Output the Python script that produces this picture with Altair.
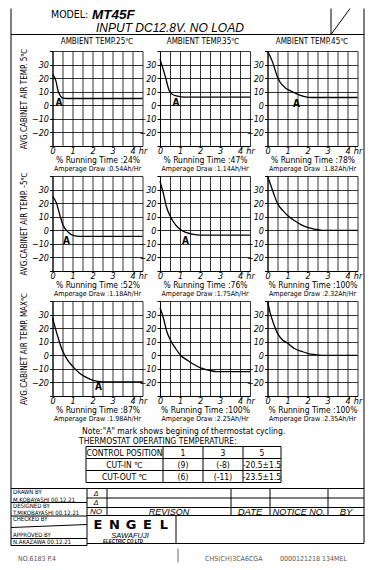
import altair as alt
import pandas as pd

# ---------------- data ----------------
ambient = ["AMBIENT TEMP.25℃", "AMBIENT TEMP.35℃", "AMBIENT TEMP.45℃"]
setting = ["AVG.CABINET AIR TEMP. 5℃", "AVG.CABINET AIR TEMP. -5℃", "AVG.CABINET AIR TEMP. MAX℃"]
running = ["24%", "47%", "78%", "52%", "76%", "100%", "87%", "100%", "100%"]
amperage = ["0.54", "1.14", "1.82", "1.18", "1.75", "2.32", "1.98", "2.25", "2.35"]

# row 1 : cabinet 5 C
hours_25_5 = [0, 0.17, 0.28, 0.4, 0.53, 0.7, 1.0, 4.5]
temp_25_5 = [23, 18, 10.5, 6.8, 5.2, 5, 5, 5]
hours_35_5 = [0, 0.25, 0.47, 0.63, 0.88, 1.2, 4.5]
temp_35_5 = [34, 22, 10.5, 8, 6.8, 6, 6]
hours_45_5 = [0, 0.25, 0.47, 0.63, 0.88, 1.13, 1.38, 1.72, 2.05, 2.4, 4.5]
temp_45_5 = [40, 32, 22, 17, 13, 10.75, 9, 7, 5.9, 5.75, 5.75]
# row 2 : cabinet -5 C
hours_25_m5 = [0, 0.2, 0.37, 0.53, 0.78, 1.03, 1.37, 4.5]
temp_25_m5 = [25, 20, 11, 3.75, -1.25, -3.75, -4.5, -4.5]
hours_35_m5 = [0, 0.17, 0.33, 0.5, 0.75, 1.0, 1.33, 1.67, 2.0, 4.5]
temp_35_m5 = [36, 27, 17, 10.75, 4.5, 0.75, -1.75, -3, -3.5, -3.5]
hours_45_m5 = [0, 0.17, 0.34, 0.51, 0.77, 1.02, 1.36, 1.7, 2.04, 2.38, 2.72, 4.5]
temp_45_m5 = [40, 33, 25.75, 19.5, 14.5, 10.75, 7, 4, 2, 0.75, 0, 0]
# row 3 : cabinet MAX
hours_25_max = [0, 0.14, 0.31, 0.48, 0.74, 1.0, 1.34, 1.69, 2.03, 2.38, 2.72, 4.5]
temp_25_max = [27.5, 20, 11.5, 4, -3.2, -8, -13, -16.3, -18.5, -19.4, -19.6, -19.6]
hours_35_max = [0, 0.17, 0.34, 0.52, 0.78, 1.03, 1.38, 1.72, 2.07, 2.5, 2.84, 4.5]
temp_35_max = [35, 27.5, 17.5, 11.25, 5, 0, -3.75, -7, -9.5, -11.25, -12, -12]
hours_45_max = [0, 0.12, 0.31, 0.48, 0.74, 1.0, 1.34, 1.69, 2.03, 2.38, 2.72, 4.5]
temp_45_max = [40, 32, 23, 16.7, 11.5, 9, 5, 3, 1.3, 0.5, 0, 0]

# "A" = beginning of thermostat cycling (hours, temp)
cycle_hours = [0.32, 0.8, 1.45, 0.7, 1.27, None, 2.3, None, None]
cycle_temps = [1.5, 1.5, 1.0, -8, -8, None, -23, None, None]

control_position = ["1", "3", "5"]
cut_in = ["(9)", "(-8)", "-20.5±1.5"]
cut_out = ["(6)", "(-11)", "-23.5±1.5"]

curves = [
    (hours_25_5, temp_25_5), (hours_35_5, temp_35_5), (hours_45_5, temp_45_5),
    (hours_25_m5, temp_25_m5), (hours_35_m5, temp_35_m5), (hours_45_m5, temp_45_m5),
    (hours_25_max, temp_25_max), (hours_35_max, temp_35_max), (hours_45_max, temp_45_max),
]

NARROW = "Liberation Sans Narrow, DejaVu Sans Condensed, Liberation Sans, sans-serif"
SANS = "Liberation Sans, Arial, sans-serif"
PW, PH = 90, 95
NB = "\u00a0"


def panel(i):
    r, c = divmod(i, 3)
    hrs, tmp = curves[i]
    df = pd.DataFrame({"t": hrs, "v": tmp})
    x = alt.X(
        "t:Q",
        scale=alt.Scale(domain=[0, 4.5], nice=False, zero=False),
        axis=alt.Axis(
            values=[k * 0.5 for k in range(10)],
            labelExpr="datum.value == 4.5 ? '" + NB + "hr' : (datum.value % 1 == 0 ? format(datum.value, 'd') : '')",
            title="% Running Time :" + running[i],
            ticks=False, labelPadding=0, titlePadding=0, titleFontSize=8.5,
            labelOverlap=False, labelFlush=False,
        ),
    )
    yaxis = dict(
        values=list(range(-30, 41, 10)),
        labelExpr="(datum.value == 40 || datum.value == -30) ? '' : format(datum.value, 'd')",
        tickSize=3, labelPadding=1, labelOverlap=False,
    )
    if c == 0:
        yaxis.update(title=setting[r], titleFontSize=8, titlePadding=3)
    else:
        yaxis.update(title=None)
    y = alt.Y("v:Q", scale=alt.Scale(domain=[-30, 40], nice=False, zero=False), axis=alt.Axis(**yaxis))
    line = alt.Chart(df).mark_line(color="black", strokeWidth=1.3, interpolate="monotone").encode(x=x, y=y)
    if cycle_hours[i] is not None:
        adf = pd.DataFrame({"t": [cycle_hours[i]], "v": [cycle_temps[i]], "s": ["A"]})
        txt = alt.Chart(adf).mark_text(font=NARROW, fontSize=10, fontWeight="bold", color="black",
                                       baseline="middle").encode(x=x, y=y, text="s:N")
        ch = alt.layer(line, txt)
    else:
        ch = line
    return ch.properties(
        width=PW, height=PH,
        title=alt.TitleParams(text="Amperage Draw :" + amperage[i] + "Ah/Hr", orient="bottom", anchor="middle",
                              fontSize=7, offset=1, font=NARROW, fontWeight="normal", color="black"),
    )


def spacer(w, h):
    return (
        alt.Chart(pd.DataFrame({"a": [0]}))
        .mark_point(opacity=0)
        .encode(x=alt.value(0), y=alt.value(0))
        .properties(width=w, height=h)
    )


# ---------------- page decoration (page coordinates, drawn from the first grid cell) ----------------
SX = alt.Scale(domain=[8, 31.5], range=[0, 23.5])
SY = alt.Scale(domain=[50.5, 145.5], range=[0, 95])


def seg_layer(segs, color="black", width=1.0):
    df = pd.DataFrame(segs, columns=["x", "y", "x2", "y2"])
    return alt.Chart(df).mark_rule(color=color, strokeWidth=width).encode(
        x=alt.X("x:Q", scale=SX, axis=None), y=alt.Y("y:Q", scale=SY, axis=None), x2="x2:Q", y2="y2:Q"
    )


def text_layer(items, font=NARROW, style="normal", weight="normal", align="left", color="black"):
    df = pd.DataFrame(items, columns=["x", "y", "s", "size"])
    return alt.Chart(df).mark_text(
        font=font, fontStyle=style, fontWeight=weight, align=align, baseline="middle", color=color
    ).encode(
        x=alt.X("x:Q", scale=SX, axis=None), y=alt.Y("y:Q", scale=SY, axis=None),
        text="s:N", size=alt.Size("size:Q", scale=None),
    )


segs = [
    (8, 34, 361, 34), (8, 8, 8, 545), (361, 8, 361, 543), (328, 8, 328, 34), (328, 34, 347, 8),
    # title block
    (8, 488, 361, 488), (84, 488, 84, 545), (8, 502, 84, 502), (8, 515.5, 84, 515.5),
    (8, 527, 84, 524), (8, 538, 84, 538), (8, 545, 84, 545),
    (104, 488, 104, 515), (228, 488, 228, 515), (267, 488, 267, 515), (325, 488, 325, 515),
    (84, 497.5, 361, 497.5), (84, 507, 361, 507), (84, 515, 361, 515),
    (173, 515, 173, 543), (84, 543, 361, 543),
]
tx = [83, 160, 200, 240, 278]
ty = [446, 458, 470, 482]
for xx in tx:
    segs.append((xx, ty[0], xx, ty[-1]))
for yy in ty:
    segs.append((tx[0], yy, tx[-1], yy))

table_items = []
row_labels = ["CONTROL POSITION", "CUT-IN ℃", "CUT-OUT ℃"]
for ri, vals in enumerate([control_position, cut_in, cut_out]):
    yc = (ty[ri] + ty[ri + 1]) / 2
    table_items.append(((tx[0] + tx[1]) / 2, yc, row_labels[ri], 8.5))
    for ci, v in enumerate(vals):
        table_items.append(((tx[ci + 1] + tx[ci + 2]) / 2, yc, v, 8.5))

column_heads = [(cx, 41, t, 8) for cx, t in zip([94, 200, 309], ambient)]

left_items = [
    (48, 14, "MODEL:", 10.5),
    (79, 430.5, 'Note:"A" mark shows begining of thermostat cycling.', 8.5),
    (76, 440.5, "THERMOSTAT OPERATING TEMPERATURE:", 8.5),
    (10, 491.5, "DRAWN BY", 6), (10, 499, "M.KOBAYASHI 00.12.21", 6),
    (10, 505.5, "DESIGNED BY", 6), (10, 512, "T.MIKOBAYASHI 00.12.21", 6),
    (10, 518.5, "CHECKED BY", 6), (10, 534, "APPROVED BY", 6), (10, 541.5, "N.AKAZAWA 00.12.21", 6),
]
center_italic = [
    (93, 493, "Δ", 7), (93, 502.3, "Δ", 7), (93, 511.2, "NO", 8),
    (166, 511, "REVISON", 9), (247, 511, "DATE", 9.5), (296, 511, "NOTICE NO.", 9),
    (343, 511, "BY", 9.5), (127, 535, "SAWAFUJI", 7.5),
]
logo = [(95 + 16.5 * k, 524, ch, 13) for k, ch in enumerate("ENGEL")]

decor = alt.layer(
    seg_layer(segs),
    seg_layer([(175, 548, 175, 562)], color="#444", width=0.8),
    text_layer(left_items),
    text_layer(column_heads, align="center"),
    text_layer(table_items, align="center"),
    text_layer([(89, 14.5, "MT45F", 13.5)], font=SANS, style="italic", weight="bold"),
    text_layer([(93, 27.5, "INPUT DC12.8V.  NO LOAD", 12)], font=SANS, style="italic"),
    text_layer(center_italic, font=SANS, style="italic", align="center"),
    text_layer(logo, font="DejaVu Sans", weight="bold", align="center"),
    text_layer([(120, 541.5, "ELECTRIC CO LTD", 4.5)], font=SANS, style="italic", weight="bold", align="center"),
    text_layer([(15, 558, "NO.6183 P.4", 7), (202, 558, "CHS(CH)3CA6CGA", 7), (277, 558, "0000121218 134MEL", 7)],
               color="#555"),
).properties(width=23.5, height=PH)

cells = []
for r in range(3):
    cells.append(decor if r == 0 else spacer(23.5, PH))
    cells.extend(panel(3 * r + c) for c in range(3))

chart = (
    alt.concat(*cells, columns=4, spacing={"row": 30, "column": 17.5}, bounds="flush")
    .properties(padding=0, background="white")
    .configure_view(strokeWidth=0)
    .configure_axis(
        grid=True, gridColor="black", gridWidth=0.8, gridOpacity=1,
        domainColor="black", tickColor="black", labelColor="black", titleColor="black",
        labelFont=NARROW, titleFont=NARROW, labelFontStyle="italic", labelFontSize=9,
        titleFontWeight="normal",
    )
)

chart.save("out.html", embed_options={"renderer": "svg", "actions": False})
